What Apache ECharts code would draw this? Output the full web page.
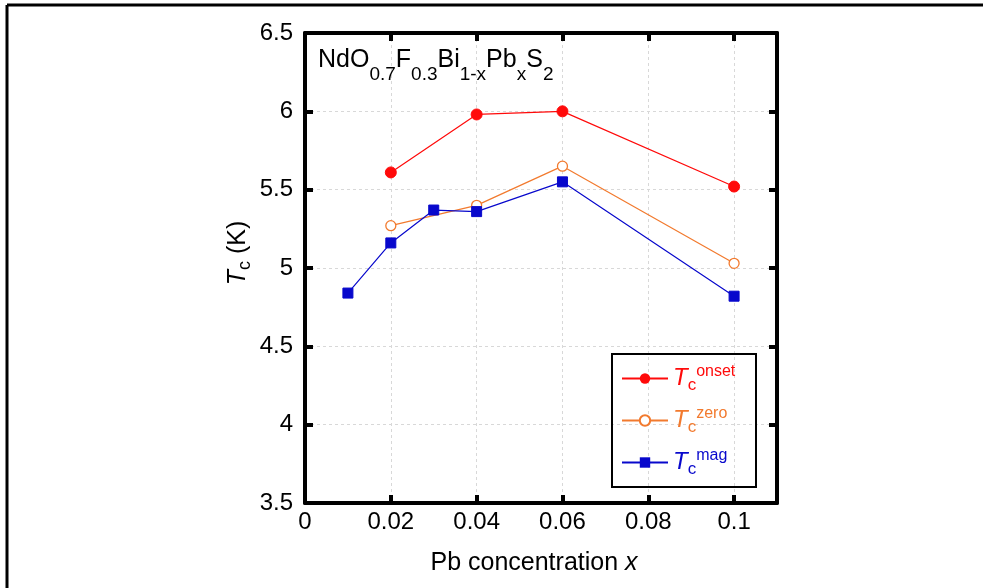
<!DOCTYPE html>
<html>
<head>
<meta charset="utf-8">
<script src="https://cdn.jsdelivr.net/npm/echarts@6/dist/echarts.min.js"></script>
<style>
html,body{margin:0;padding:0;background:#fff;}
#c{width:983px;height:588px;}
</style>
</head>
<body>
<div id="c"></div>
<script>
// ---- data ----
var xOnset = [0.02, 0.04, 0.06, 0.1];
var tcOnset = [5.61, 5.98, 6.00, 5.52];
var xZero = [0.02, 0.04, 0.06, 0.1];
var tcZero = [5.27, 5.40, 5.65, 5.03];
var xMag = [0.01, 0.02, 0.03, 0.04, 0.06, 0.1];
var tcMag = [4.84, 5.16, 5.37, 5.36, 5.55, 4.82];
var seriesNames = ['onset', 'zero', 'mag'];
var xTickLabels = ['0', '0.02', '0.04', '0.06', '0.08', '0.1'];
var yTickLabels = ['3.5', '4', '4.5', '5', '5.5', '6', '6.5'];

function pairs(xs, ys) { return xs.map(function (x, i) { return [x, ys[i]]; }); }

var RED = '#ff0a0a', ORANGE = '#f27a2e', BLUE = '#0808cc';
var FONT = '"Liberation Sans", Arial, sans-serif';

var chart = echarts.init(document.getElementById('c'), null, {renderer: 'canvas'});

var gridLine = {show: true, lineStyle: {color: '#d8d8d8', type: [3, 3], width: 1}};
function axisCommon(extra) {
  return Object.assign({
    axisLine: {show: true, onZero: false, lineStyle: {color: '#000', width: 4}},
    axisTick: {show: true, inside: true, length: 8, lineStyle: {color: '#000', width: 4}},
  }, extra);
}

var legendColors = {onset: RED, zero: ORANGE, mag: BLUE};
var rich = {};
['onset', 'zero', 'mag'].forEach(function (k) {
  var c = legendColors[k];
  rich['T' + k] = {fontFamily: FONT, fontSize: 24, fontStyle: 'italic', color: c};
  rich['c' + k] = {fontFamily: FONT, fontSize: 17, color: c, padding: [14, 0, 0, 0]};
  rich['s' + k] = {fontFamily: FONT, fontSize: 16, color: c, padding: [0, 0, 13, 0]};
});

var option = {
  animation: false,
  backgroundColor: '#fff',
  grid: {left: 305, top: 33, right: 206, bottom: 85, containLabel: false},
  xAxis: [
    axisCommon({
      type: 'value', position: 'bottom', min: 0, max: 0.11, interval: 0.02,
      splitLine: gridLine,
      axisLabel: {
        show: true, showMaxLabel: false, margin: 7, color: '#000', fontFamily: FONT, fontSize: 24,
        formatter: function (v) { var i = Math.round(v / 0.02); return (Math.abs(v - i * 0.02) < 1e-9 && i < xTickLabels.length) ? xTickLabels[i] : ''; }
      }
    }),
    axisCommon({
      type: 'value', position: 'top', min: 0, max: 0.11, interval: 0.02,
      splitLine: {show: false}, axisLabel: {show: false}
    })
  ],
  yAxis: [
    axisCommon({
      type: 'value', position: 'left', min: 3.5, max: 6.5, interval: 0.5,
      splitLine: gridLine,
      axisLabel: {
        show: true, margin: 12, color: '#000', fontFamily: FONT, fontSize: 24,
        formatter: function (v) { var i = Math.round((v - 3.5) / 0.5); return yTickLabels[i] || ''; }
      }
    }),
    axisCommon({
      type: 'value', position: 'right', min: 3.5, max: 6.5, interval: 0.5,
      splitLine: {show: false}, axisLabel: {show: false}
    })
  ],
  legend: {
    show: true, orient: 'vertical', left: 616, top: 359,
    itemWidth: 46, itemHeight: 13, itemGap: 12,
    selectedMode: false,
    formatter: function (name) { return '{T' + name + '|T}{c' + name + '|c}{s' + name + '|' + name + '}'; },
    textStyle: {rich: rich},
    data: seriesNames.map(function (n) { return {name: n}; })
  },
  series: [
    {
      name: 'onset', type: 'line', data: pairs(xOnset, tcOnset),
      symbol: 'circle', symbolSize: 11,
      lineStyle: {color: RED, width: 1.2},
      itemStyle: {color: RED, borderColor: RED}
    },
    {
      name: 'zero', type: 'line', data: pairs(xZero, tcZero),
      symbol: 'circle', symbolSize: 10,
      lineStyle: {color: ORANGE, width: 1.2},
      itemStyle: {color: '#fff', borderColor: ORANGE, borderWidth: 1.3}
    },
    {
      name: 'mag', type: 'line', data: pairs(xMag, tcMag),
      symbol: 'rect', symbolSize: 10,
      lineStyle: {color: BLUE, width: 1.2},
      itemStyle: {color: BLUE, borderColor: BLUE}
    }
  ],
  graphic: [
    {type: 'line', shape: {x1: 7, y1: 5, x2: 983, y2: 5}, style: {stroke: '#000', lineWidth: 3}, z: 100},
    {type: 'line', shape: {x1: 7, y1: 5, x2: 7, y2: 588}, style: {stroke: '#000', lineWidth: 3}, z: 100},
    {type: 'rect', shape: {x: 612, y: 354, width: 144, height: 133}, style: {fill: 'none', stroke: '#000', lineWidth: 2}, z: 100},
    {
      type: 'text', left: 318, top: 48, z: 100,
      style: {
        text: '{m|NdO}{s|0.7}{m|F}{s|0.3}{m|Bi}{s|1-x}{m|Pb}{s|x}{m|S}{s|2}',
        rich: {
          m: {fontFamily: FONT, fontSize: 25, fill: '#000'},
          s: {fontFamily: FONT, fontSize: 19, fill: '#000', padding: [28, 0, 0, 0]}
        }
      }
    },
    {
      type: 'text', x: 534, y: 563, z: 100,
      style: {
        text: '{n|Pb concentration }{i|x}', align: 'center', verticalAlign: 'middle',
        rich: {
          n: {fontFamily: FONT, fontSize: 25, fill: '#000'},
          i: {fontFamily: FONT, fontSize: 25, fontStyle: 'italic', fill: '#000'}
        }
      }
    },
    {
      type: 'text', x: 238, y: 253, rotation: Math.PI / 2, z: 100,
      style: {
        text: '{i|T}{s|c}{n| (K)}', align: 'center', verticalAlign: 'middle',
        rich: {
          i: {fontFamily: FONT, fontSize: 25, fontStyle: 'italic', fill: '#000'},
          s: {fontFamily: FONT, fontSize: 18, fill: '#000', padding: [14, 0, 0, 0]},
          n: {fontFamily: FONT, fontSize: 25, fill: '#000'}
        }
      }
    }
  ]
};
chart.setOption(option);
</script>
</body>
</html>
